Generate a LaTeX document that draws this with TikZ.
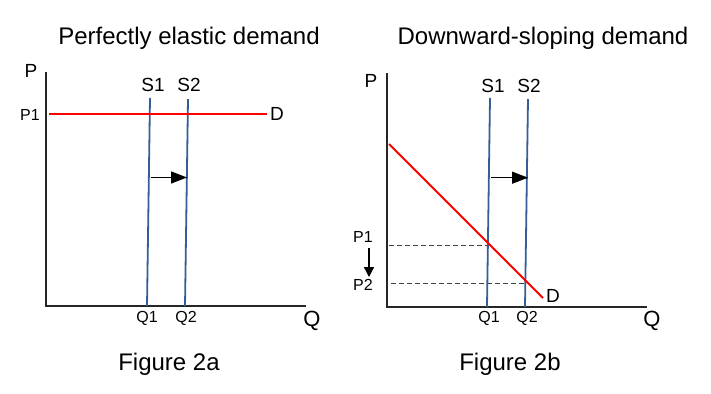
\documentclass[tikz,border=0pt]{standalone}
\usepackage{fontspec}
\setmainfont{Liberation Sans}
\usetikzlibrary{arrows.meta}
\definecolor{supblue}{RGB}{52,94,154}

\begin{document}
\begin{tikzpicture}[x=1pt, y=-1pt,
    axis/.style = {draw=black!85, line width=1.2pt},
    supply/.style = {draw=supblue, line width=1.8pt},
    demand/.style = {draw=red, line width=1.8pt},
    guide/.style = {draw=black!75, line width=1pt, dash pattern=on 5pt off 3pt},
    moveright/.style = {line width=1.3pt, -{Triangle[length=16pt,width=12pt]}},
    drop/.style = {line width=1.3pt, -{Triangle[length=10pt,width=10pt]}},
    big/.style = {inner sep=0pt, font=\fontsize{24}{28}\selectfont},
    axlab/.style = {inner sep=0pt, font=\fontsize{22}{26}\selectfont},
    lab/.style = {inner sep=0pt, font=\fontsize{19}{22}\selectfont},
    small/.style = {inner sep=0pt, font=\fontsize{16}{19}\selectfont}]
    \useasboundingbox (0,0) rectangle (711,393);

    % Figura 2a: domanda perfettamente elastica
    \node[big] (tA) at (189,38) {Perfectly elastic demand};
    \node[big] (fA) at (169,364) {Figure 2a};
    \coordinate (oA) at (46,306);
    \coordinate (yA) at (46,72);
    \coordinate (xA) at (306,306);
    \draw[axis] (yA) -- (oA) -- (xA);
    \node[lab] (PA) at (31,71) {P};
    \node[axlab] (QA) at (312,321) {Q};

    \coordinate (s1At) at (150,98);
    \coordinate (s1Ab) at (147,306);
    \coordinate (s2At) at (188,99);
    \coordinate (s2Ab) at (185,306);
    \draw[supply] (s1At) -- (s1Ab);
    \draw[supply] (s2At) -- (s2Ab);
    \node[lab] (S1A) at (153,85) {S1};
    \node[lab] (S2A) at (189,85) {S2};
    \node[small] (Q1A) at (147,318) {Q1};
    \node[small] (Q2A) at (186,318) {Q2};

    \coordinate (dAl) at (49,114);
    \coordinate (dAr) at (267,114);
    \draw[demand] (dAl) -- (dAr);
    \node[lab] (DA) at (277,114) {D};
    \node[small] (P1A) at (30,115) {P1};

    \coordinate (aAl) at (151,177.5);
    \coordinate (aAr) at (187,177.5);
    \draw[moveright] (aAl) -- (aAr);

    % Figura 2b: domanda decrescente
    \node[big] (tB) at (543,38) {Downward-sloping demand};
    \node[big] (fB) at (510,364) {Figure 2b};
    \coordinate (oB) at (387,307);
    \coordinate (yB) at (387,73);
    \coordinate (xB) at (647,307);
    \draw[axis] (yB) -- (oB) -- (xB);
    \node[lab] (PB) at (371,81) {P};
    \node[axlab] (QB) at (652,321) {Q};

    \coordinate (s1Bt) at (490,98);
    \coordinate (s1Bb) at (487,307);
    \coordinate (s2Bt) at (528,99);
    \coordinate (s2Bb) at (525,307);
    \coordinate (dBt) at (389,144);
    \coordinate (dBb) at (543,298);
    \coordinate (e1) at (489,245.5);
    \coordinate (e2) at (525.5,283.5);
    \coordinate (g1) at (389,245.5);
    \coordinate (g2) at (391,283.5);
    \draw[guide] (g1) -- (e1);
    \draw[guide] (g2) -- (e2);
    \draw[supply] (s1Bt) -- (s1Bb);
    \draw[supply] (s2Bt) -- (s2Bb);
    \draw[demand] (dBt) -- (dBb);
    \node[lab] (S1B) at (493,86) {S1};
    \node[lab] (S2B) at (529,86) {S2};
    \node[small] (Q1B) at (489,318) {Q1};
    \node[small] (Q2B) at (527,318) {Q2};
    \node[lab] (DB) at (553,296) {D};

    \node[small] (P1B) at (363,237) {P1};
    \node[small] (P2B) at (363,285) {P2};
    \coordinate (pt) at (369,248);
    \coordinate (pb) at (369,277);
    \draw[drop] (pt) -- (pb);

    \coordinate (aBl) at (491,177.7);
    \coordinate (aBr) at (528,177.7);
    \draw[moveright] (aBl) -- (aBr);
\end{tikzpicture}
\end{document}
